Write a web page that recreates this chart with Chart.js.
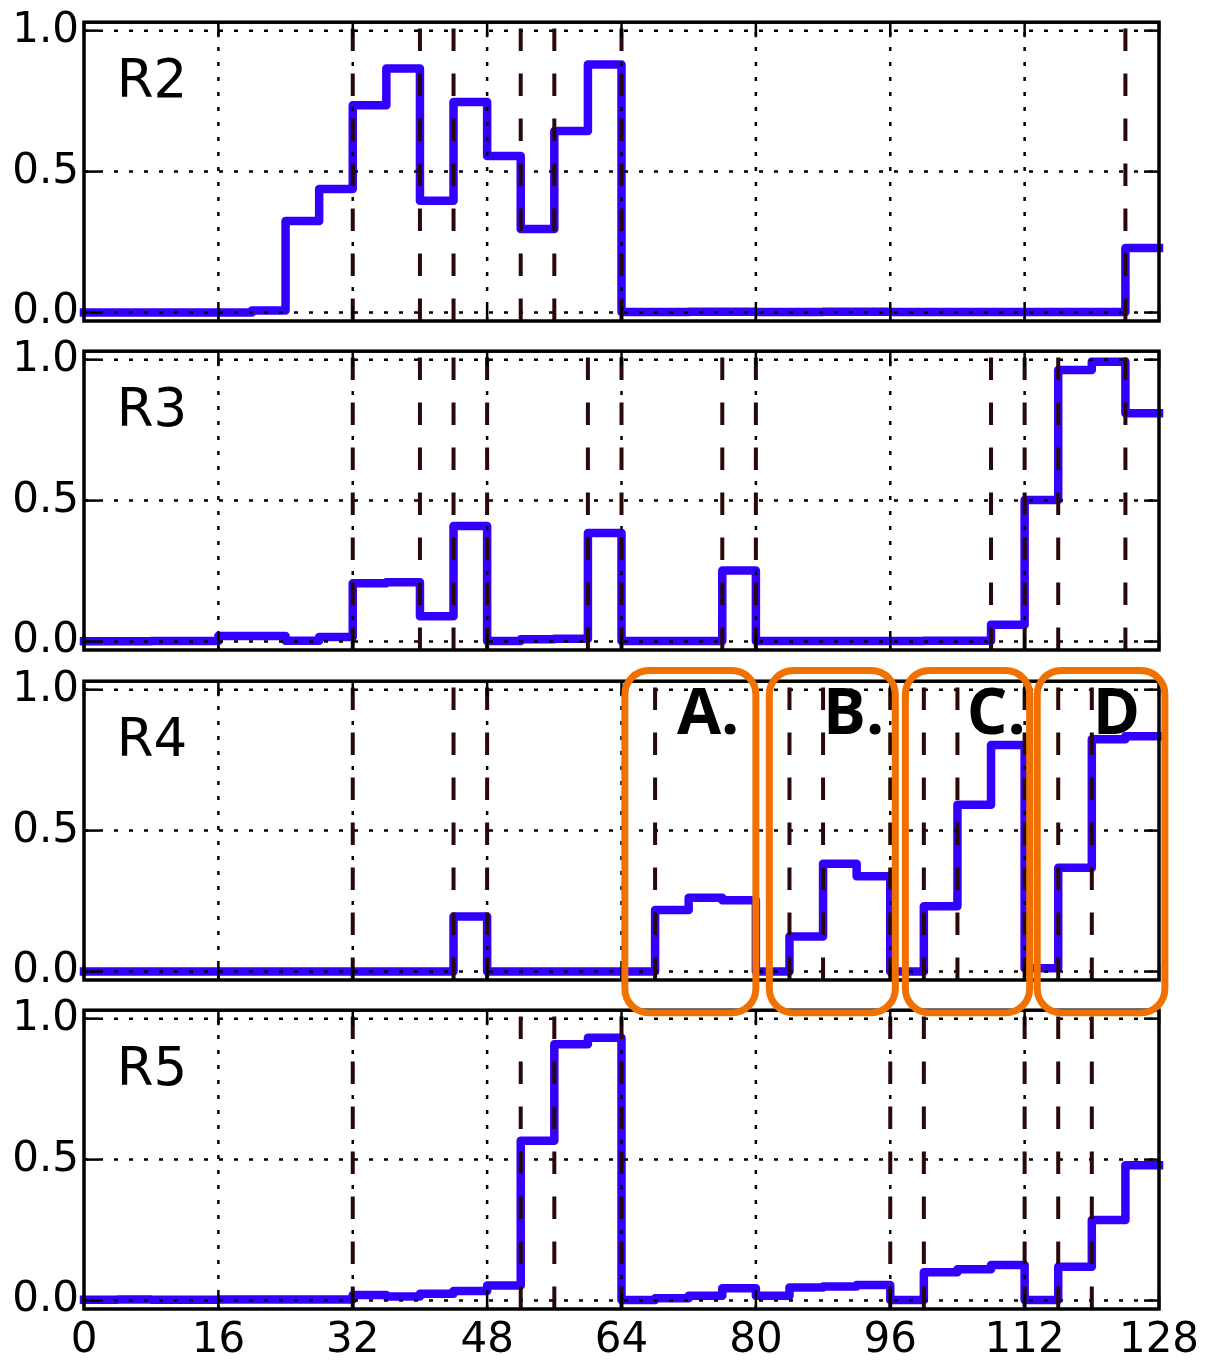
<!DOCTYPE html>
<html>
<head>
<meta charset="utf-8">
<script src="https://cdn.jsdelivr.net/npm/chart.js@4.4.1/dist/chart.umd.min.js"></script>
<style>
  html, body { margin: 0; padding: 0; background: #fff; }
  #wrap { position: relative; width: 1211px; height: 1364px; overflow: hidden; }
  #wrap canvas { position: absolute; left: 0; }
</style>
</head>
<body>
<div id="wrap"></div>
<script>
// bin edges (32 bins of width 4) and axis ticks
const X_EDGES = [0, 4, 8, 12, 16, 20, 24, 28, 32, 36, 40, 44, 48, 52, 56, 60, 64,
  68, 72, 76, 80, 84, 88, 92, 96, 100, 104, 108, 112, 116, 120, 124, 128];
const X_TICKS = [0, 16, 32, 48, 64, 80, 96, 112, 128];
const Y_TICKS = [0, 0.5, 1.0];

// one value per bin
const R2_VALUES = [0, 0, 0, 0, 0, 0.007, 0.325, 0.438, 0.735, 0.866, 0.397, 0.747,
  0.555, 0.296, 0.644, 0.88, 0.002, 0.002, 0.003, 0.003, 0.002, 0.002, 0.003, 0.003,
  0.002, 0.002, 0.002, 0.002, 0.002, 0.002, 0.002, 0.229];
const R3_VALUES = [0.001, 0.001, 0.002, 0.002, 0.02, 0.02, 0.003, 0.016, 0.207, 0.21,
  0.09, 0.41, 0.002, 0.008, 0.01, 0.385, 0.002, 0.002, 0.002, 0.252, 0.002, 0.002,
  0.002, 0.002, 0.002, 0.003, 0.003, 0.06, 0.502, 0.963, 0.993, 0.81];
const R4_VALUES = [0, 0, 0, 0, 0, 0, 0, 0, 0, 0, 0, 0.195, 0, 0, 0, 0, 0, 0.218,
  0.262, 0.253, 0, 0.124, 0.382, 0.338, 0, 0.232, 0.592, 0.804, 0.012, 0.368,
  0.824, 0.835];
const R5_VALUES = [0.003, 0.004, 0.003, 0.003, 0.004, 0.004, 0.004, 0.004, 0.02,
  0.014, 0.024, 0.034, 0.053, 0.567, 0.909, 0.932, 0.002, 0.008, 0.017, 0.044,
  0.017, 0.046, 0.05, 0.055, 0.002, 0.1, 0.111, 0.126, 0.002, 0.12, 0.286, 0.48];

// dashed vertical markers per panel
const R2_MARKS = [32, 40, 44, 52, 56, 64, 124];
const R3_MARKS = [32, 40, 44, 48, 60, 64, 76, 80, 108, 112, 116, 124];
const R4_MARKS = [32, 44, 48, 68, 84, 88, 96, 100, 104, 112, 116, 120];
const R5_MARKS = [32, 52, 56, 64, 96, 100, 112, 116, 120];

// highlighted groups in R4
const BOX_LABELS = ["A.", "B.", "C.", "D"];
const BOX_START = [64.4, 81.6, 97.8, 113.5];
const BOX_END = [80.0, 96.6, 112.6, 128.7];
const BOX_LABEL_X = [70.6, 88.0, 105.1, 120.1];

const PANELS = [
  { name: "R2", values: R2_VALUES, marks: R2_MARKS, top: 22 },
  { name: "R3", values: R3_VALUES, marks: R3_MARKS, top: 351 },
  { name: "R4", values: R4_VALUES, marks: R4_MARKS, top: 681, boxes: true },
  { name: "R5", values: R5_VALUES, marks: R5_MARKS, top: 1010, axis: true },
];

const PANEL_H = 299;
const PAD_TOP = 30;
const FONT = "'DejaVu Sans', sans-serif";

Chart.defaults.color = "#000";

function stepPoints(values) {
  const pts = values.map((v, i) => ({ x: X_EDGES[i], y: v }));
  pts.push({ x: X_EDGES[values.length], y: values[values.length - 1] });
  return pts;
}

function seg(ctx, x0, y0, x1, y1) {
  ctx.beginPath();
  ctx.moveTo(x0, y0);
  ctx.lineTo(x1, y1);
  ctx.stroke();
}

// grid, markers, frame and ticks go on top of the curve, like the original
const panelDecor = {
  id: "panelDecor",
  afterDatasetsDraw(chart, args, opts) {
    const { ctx, chartArea: a, scales: { x, y } } = chart;
    ctx.save();

    ctx.strokeStyle = "#000";
    ctx.lineWidth = 2.5;
    ctx.setLineDash([4, 11]);
    X_TICKS.forEach((v) => {
      if (v === 0 || v === 128) return;
      const px = x.getPixelForValue(v);
      seg(ctx, px, a.bottom, px, a.top);
    });
    Y_TICKS.forEach((v) => {
      const py = y.getPixelForValue(v);
      seg(ctx, a.left, py, a.right, py);
    });

    ctx.strokeStyle = "#280808";
    ctx.lineWidth = 4;
    ctx.setLineDash([22.5, 22.5]);
    opts.marks.forEach((v) => {
      const px = x.getPixelForValue(v);
      seg(ctx, px, a.bottom, px, a.top);
    });

    ctx.setLineDash([]);
    ctx.strokeStyle = "#000";
    ctx.lineWidth = 3.5;
    ctx.strokeRect(a.left, a.top, a.width, a.height);

    ctx.lineWidth = 2.5;
    X_TICKS.forEach((v) => {
      const px = x.getPixelForValue(v);
      seg(ctx, px, a.bottom, px, a.bottom - 15);
      seg(ctx, px, a.top, px, a.top + 15);
    });
    Y_TICKS.forEach((v) => {
      const py = y.getPixelForValue(v);
      seg(ctx, a.left, py, a.left + 15, py);
      seg(ctx, a.right, py, a.right - 15, py);
    });

    ctx.fillStyle = "#000";
    ctx.font = "53px " + FONT;
    ctx.textAlign = "left";
    ctx.textBaseline = "alphabetic";
    ctx.fillText(opts.name, x.getPixelForValue(3.9), y.getPixelForValue(0.765));
    ctx.restore();
  },
};

const groupBoxes = {
  id: "groupBoxes",
  afterDraw(chart, args, opts) {
    if (!opts.show) return;
    const { ctx, scales: { x, y } } = chart;
    ctx.save();
    ctx.strokeStyle = "#f07000";
    ctx.lineWidth = 7;
    const top = y.getPixelForValue(1.068);
    const bottom = y.getPixelForValue(-0.146);
    BOX_START.forEach((b, i) => {
      const x0 = x.getPixelForValue(b);
      const x1 = x.getPixelForValue(BOX_END[i]);
      ctx.beginPath();
      ctx.roundRect(x0, top, x1 - x0, bottom - top, 24);
      ctx.stroke();
    });
    ctx.fillStyle = "#000";
    ctx.font = "bold 64px 'Open Sans', 'DejaVu Sans', sans-serif";
    ctx.textAlign = "left";
    ctx.textBaseline = "alphabetic";
    BOX_LABELS.forEach((t, i) => {
      ctx.fillText(t, x.getPixelForValue(BOX_LABEL_X[i]), y.getPixelForValue(0.843));
    });
    ctx.restore();
  },
};

const wrap = document.getElementById("wrap");

PANELS.forEach((p) => {
  const padBottom = p.axis ? 56 : 45;
  const canvas = document.createElement("canvas");
  canvas.width = 1211;
  canvas.height = PANEL_H + PAD_TOP + padBottom;
  canvas.style.top = p.top - PAD_TOP + "px";
  canvas.style.width = "1211px";
  canvas.style.height = canvas.height + "px";
  canvas.style.zIndex = p.boxes ? 5 : 1;
  wrap.appendChild(canvas);

  new Chart(canvas.getContext("2d"), {
    type: "line",
    data: {
      datasets: [
        {
          data: stepPoints(p.values),
          borderColor: "#3300ff",
          borderWidth: 8.5,
          stepped: true,
          pointRadius: 0,
          fill: false,
          clip: false,
          borderCapStyle: "square",
          borderJoinStyle: "round",
        },
      ],
    },
    options: {
      responsive: false,
      animation: false,
      devicePixelRatio: 1,
      layout: { padding: { top: PAD_TOP, right: 52, left: 0, bottom: 0 } },
      plugins: {
        legend: { display: false },
        tooltip: { enabled: false },
        panelDecor: { marks: p.marks, name: p.name },
        groupBoxes: { show: !!p.boxes },
      },
      scales: {
        x: {
          type: "linear",
          min: 0,
          max: 128,
          afterBuildTicks: (s) => { s.ticks = X_TICKS.map((v) => ({ value: v })); },
          afterFit: (s) => { s.height = padBottom; },
          grid: { display: false, drawTicks: false },
          border: { display: false },
          ticks: {
            display: !!p.axis,
            autoSkip: false,
            maxRotation: 0,
            padding: 7,
            font: { family: FONT, size: 42 },
            color: "#000",
          },
        },
        y: {
          type: "linear",
          min: -0.03,
          max: 1.03,
          afterBuildTicks: (s) => { s.ticks = Y_TICKS.map((v) => ({ value: v })); },
          afterFit: (s) => { s.width = 84; },
          grid: { display: false, drawTicks: false },
          border: { display: false },
          ticks: {
            padding: 5,
            font: { family: FONT, size: 42 },
            color: "#000",
            callback: (v) => Number(v).toFixed(1),
          },
        },
      },
    },
    plugins: [panelDecor, groupBoxes],
  });
});
</script>
</body>
</html>
